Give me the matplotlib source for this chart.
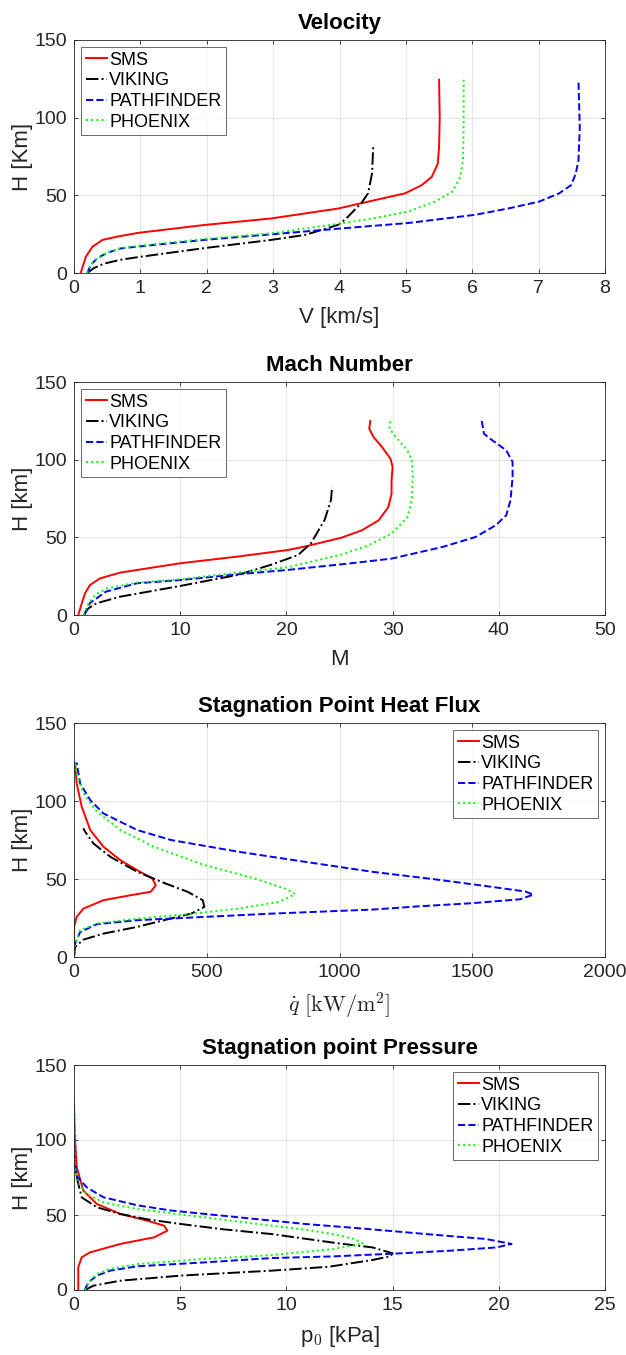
import matplotlib
matplotlib.use("Agg")
import matplotlib.pyplot as plt

plt.rcParams['font.family'] = ['Liberation Sans', 'DejaVu Sans']
plt.rcParams['mathtext.fontset'] = 'cm'

names = ['SMS', 'VIKING', 'PATHFINDER', 'PHOENIX']

# Velocity [km/s] vs altitude [km]
vel_sms_x = [0.1, 0.18, 0.28, 0.43, 0.65, 0.96, 1.96, 2.97, 3.98, 4.54, 4.99, 5.24, 5.39, 5.48, 5.5, 5.51, 5.5]
vel_sms_h = [0, 10.6, 17, 21.3, 23.4, 25.8, 30.9, 35.1, 41.5, 47, 51.3, 56.6, 61.9, 70.3, 81, 100, 124.4]
vel_vik_x = [0.2, 0.3, 0.45, 0.7, 0.96, 1.96, 2.97, 3.48, 3.98, 4.1, 4.23, 4.33, 4.43, 4.49, 4.51]
vel_vik_h = [0, 3.2, 6, 8.5, 10.2, 16, 21.3, 24.5, 31, 35, 40.7, 45, 51.3, 64, 83]
vel_pat_x = [0.2, 0.25, 0.35, 0.5, 0.7, 0.96, 1.96, 2.97, 4.03, 5.04, 6.05, 6.56, 7.01, 7.31, 7.49, 7.56, 7.6, 7.62, 7.6]
vel_pat_h = [0, 5, 9.5, 13, 15.8, 17, 21.3, 24.9, 28.7, 32.2, 37.5, 41.7, 46, 51.3, 56.6, 64, 72.5, 93.6, 124.4]
vel_pho_x = [0.2, 0.25, 0.35, 0.5, 0.7, 0.96, 1.96, 2.97, 4.03, 4.54, 5.04, 5.44, 5.7, 5.82, 5.86, 5.87, 5.87]
vel_pho_h = [0, 5.3, 9.6, 13.2, 16, 17.4, 21.9, 25.5, 32, 35.4, 39.6, 46, 52.3, 61.9, 72.5, 93.6, 124.4]

# Mach number vs altitude [km]
mach_sms_x = [0.4, 0.73, 1.04, 1.5, 2.46, 4.35, 10.0, 15.4, 20.1, 21.7, 25.2, 27.1, 28.7, 29.6, 29.9, 29.9, 30.0, 29.8, 29.0, 28.2, 27.8, 27.9]
mach_sms_h = [0, 7.5, 14, 19.3, 23.6, 27.3, 33.3, 37.6, 41.8, 44, 49.8, 54.5, 61, 69.5, 78, 86.7, 95.3, 100.6, 108.2, 114.6, 120, 124.9]
mach_vik_x = [0.9, 1.36, 2.1, 4.35, 10.0, 15.4, 18.5, 21.1, 22.3, 23.6, 24.2, 24.3]
mach_vik_h = [0, 4.3, 7.5, 11.8, 18.7, 25.8, 32.2, 38.6, 46.1, 61.2, 74, 82.6]
mach_pat_x = [1.0, 1.2, 1.5, 3.0, 5.9, 10.0, 15.4, 20.1, 26.1, 29.9, 34.7, 37.8, 39.7, 40.7, 41.1, 41.3, 41.3, 40.7, 39.4, 38.6, 38.4]
mach_pat_h = [0, 4, 7.7, 15, 20.4, 22.5, 26.2, 29, 33.3, 36.3, 43.8, 50.2, 57.7, 64.2, 73.8, 88.8, 98.5, 106, 112.4, 116.7, 124.9]
mach_pho_x = [0.9, 1.36, 2.0, 3.1, 5.9, 10.0, 15.4, 20.1, 25.2, 27.7, 29.9, 31.4, 31.8, 31.9, 31.8, 31.4, 30.3, 29.7, 29.8]
mach_pho_h = [0, 7.5, 12.9, 17.2, 20.8, 23, 27.3, 30.7, 39, 44.8, 52.4, 63, 73.8, 88.8, 99.6, 106, 114.6, 120, 124.9]

# Stagnation point heat flux [kW/m2] vs altitude [km]
heat_sms_x = [0, 0, 10, 35, 111, 213, 289, 308, 295, 238, 175, 111, 61, 29, 10, 4]
heat_sms_h = [0, 19.3, 25.7, 31, 36.4, 39.6, 41.8, 46, 50.3, 55.7, 62, 70.7, 81.4, 96.4, 111.3, 124.2]
heat_vik_x = [0, 4, 35, 111, 238, 339, 441, 491, 485, 428, 339, 238, 137, 73, 42, 35]
heat_vik_h = [0, 6.4, 11.1, 15, 19.3, 23.6, 27.8, 32.1, 36.4, 41.8, 47.5, 54.6, 64.2, 72.8, 80.3, 82.5]
heat_pat_x = [0, 4, 23, 86, 238, 491, 744, 1124, 1300, 1500, 1680, 1730, 1700, 1550, 1350, 1124, 871, 618, 365, 238, 111, 61, 23, 10]
heat_pat_h = [0, 8.6, 16, 21, 23.6, 25.7, 27.8, 30.4, 32.5, 34.5, 37, 40, 42, 45.5, 50, 54.6, 61, 67.5, 75, 81.4, 92, 100.6, 111.3, 124.6]
heat_pho_x = [0, 4, 23, 86, 238, 428, 618, 770, 833, 795, 681, 491, 301, 175, 86, 35, 10, 4]
heat_pho_h = [0, 8.6, 17.1, 21.4, 24.6, 27.4, 31, 35.3, 40.3, 43.9, 50.3, 58.9, 70.7, 81.4, 93.2, 105, 117.8, 124.6]

# Stagnation point pressure [kPa] vs altitude [km]
pres_sms_x = [0.2, 0.2, 0.36, 0.76, 2.18, 3.77, 4.4, 4.24, 3.45, 2.18, 1.08, 0.44, 0.13, 0.03, 0.0]
pres_sms_h = [0, 15.1, 21.8, 25.1, 30.7, 35.1, 39.6, 42.9, 46.2, 50.7, 57.3, 66.2, 81.8, 104, 125]
pres_vik_x = [0.52, 0.92, 2.18, 5.03, 9.3, 12.0, 14.05, 14.9, 15.0, 14.5, 14.05, 12.5, 9.3, 7.0, 5.03, 3.5, 2.18, 1.08, 0.36, 0.13, 0.03]
pres_vik_h = [0, 2.9, 6.2, 9.6, 12.9, 15.5, 20, 22.5, 24.5, 26.5, 28.4, 31, 37.3, 40.5, 44, 47, 50.7, 55.1, 61.8, 75, 85]
pres_pat_x = [0.5, 0.68, 1.08, 1.7, 2.97, 6.14, 9.3, 12.2, 15.3, 17.7, 19.9, 20.6, 19.4, 16.9, 13.8, 10.9, 7.72, 4.56, 2.97, 1.39, 0.6, 0.13, 0.03, 0.01, 0.0]
pres_pat_h = [0, 5.1, 9.6, 12.9, 15.8, 18.4, 21.3, 22.4, 24.4, 26.2, 28.4, 30.7, 34, 36.9, 40.7, 44, 48.5, 53, 56.5, 61.8, 68.4, 76, 86, 100, 125]
pres_pho_x = [0.52, 0.68, 1.08, 1.7, 2.97, 6.14, 9.3, 12.2, 13.6, 13.2, 12.3, 11.0, 9.3, 6.14, 2.97, 1.39, 0.6, 0.13, 0.03, 0.0]
pres_pho_h = [0, 5.1, 10.7, 14, 17.3, 20.7, 23.3, 27.3, 31, 34, 37, 40, 42.9, 48.4, 54, 58.4, 64, 72.9, 85, 125]

colors = ['#ff0000', '#000000', '#0000ff', '#00ff00']
styles = ['-', '-.', '--', ':']

panels = [
    ("Velocity", "V [km/s]", "H [Km]", 8, 1, 'upper left',
     [(vel_sms_x, vel_sms_h), (vel_vik_x, vel_vik_h), (vel_pat_x, vel_pat_h), (vel_pho_x, vel_pho_h)]),
    ("Mach Number", "M", "H [km]", 50, 10, 'upper left',
     [(mach_sms_x, mach_sms_h), (mach_vik_x, mach_vik_h), (mach_pat_x, mach_pat_h), (mach_pho_x, mach_pho_h)]),
    ("Stagnation Point Heat Flux", r"$\dot{q}\ [\mathrm{kW/m^2}]$", "H [km]", 2000, 500, 'upper right',
     [(heat_sms_x, heat_sms_h), (heat_vik_x, heat_vik_h), (heat_pat_x, heat_pat_h), (heat_pho_x, heat_pho_h)]),
    ("Stagnation point Pressure", r"p$_0$ [kPa]", "H [km]", 25, 5, 'upper right',
     [(pres_sms_x, pres_sms_h), (pres_vik_x, pres_vik_h), (pres_pat_x, pres_pat_h), (pres_pho_x, pres_pho_h)]),
]

fig = plt.figure(figsize=(6.26, 13.55), dpi=100)

# axes boxes in pixels: (top, bottom)
boxes = [(40, 273), (382, 615), (723, 957), (1065, 1290)]
left, right = 74, 605

for (title, xlab, ylab, xmax, xstep, loc, series), (top, bot) in zip(panels, boxes):
    ax = fig.add_axes([left / 626, 1 - bot / 1355, (right - left) / 626, (bot - top) / 1355])
    for (x, h), name, c, ls in zip(series, names, colors, styles):
        ax.plot(x, h, color=c, linestyle=ls, linewidth=1.4, label=name)
    ax.set_xlim(0, xmax)
    ax.set_ylim(0, 150)
    ax.set_xticks(range(0, xmax + 1, xstep))
    ax.set_yticks([0, 50, 100, 150])
    ax.grid(True, color='#e6e6e6', linewidth=0.8)
    ax.set_axisbelow(True)
    for s in ax.spines.values():
        s.set_color('#262626')
        s.set_linewidth(0.6)
    ax.tick_params(direction='in', length=3, width=0.6, top=True, right=True,
                   labelsize=14, colors='#262626', pad=5)
    ax.set_title(title, fontsize=16, fontweight='bold', pad=8)
    ax.set_xlabel(xlab, fontsize=16, color='#262626', labelpad=7)
    ax.set_ylabel(ylab, fontsize=16, color='#262626', labelpad=1)
    leg = ax.legend(loc=loc, fontsize=13, frameon=True, fancybox=False,
                    handlelength=1.2, handletextpad=0.1, borderpad=0.25,
                    labelspacing=0.2, borderaxespad=0.4)
    leg.get_frame().set_edgecolor('#262626')
    leg.get_frame().set_linewidth(0.6)

fig.savefig("out.png", dpi=100)
